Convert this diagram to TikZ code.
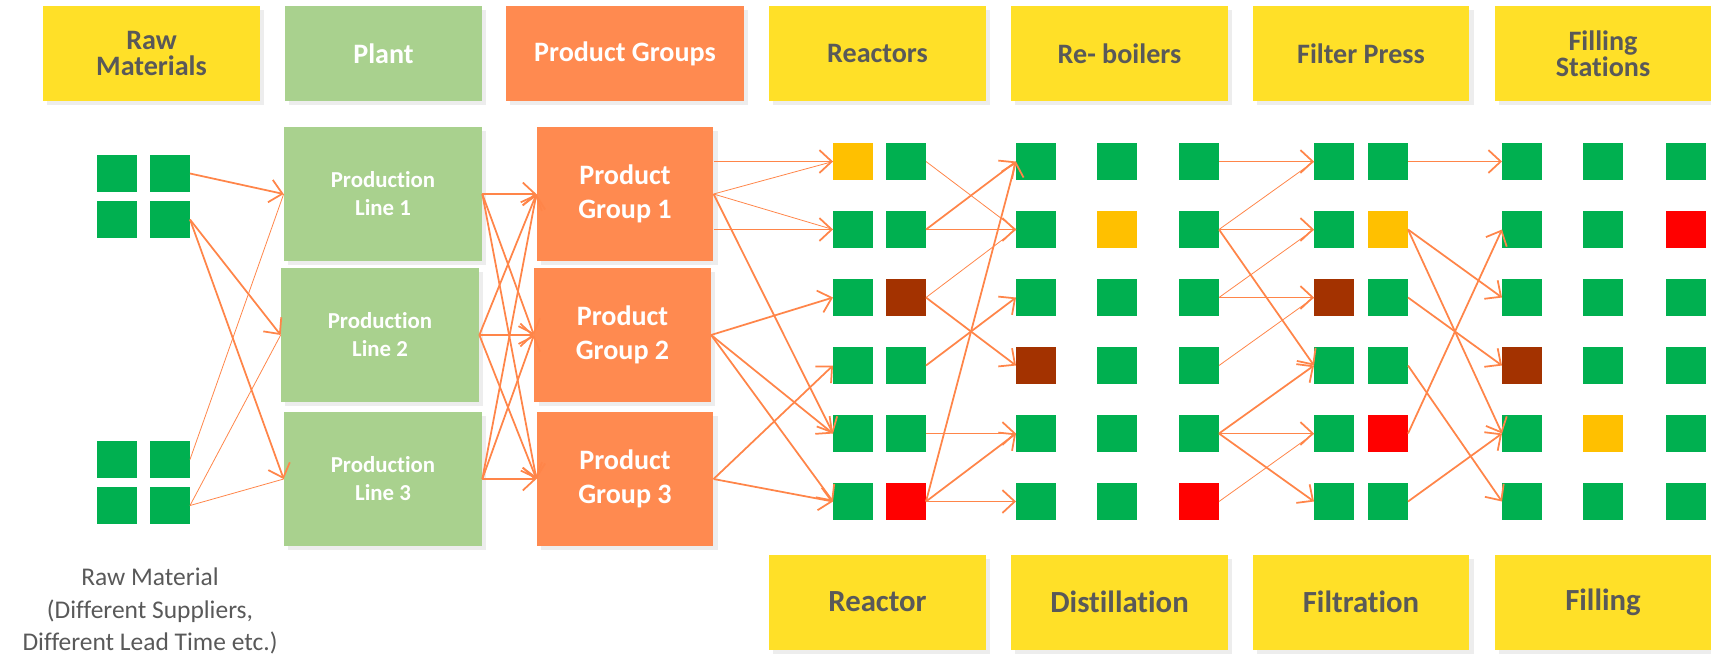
\documentclass[tikz,border=0pt]{standalone}
\usepackage{fontspec}
\setmainfont{Carlito}[Ligatures=NoCommon]
\usepackage{xcolor}
\usetikzlibrary{arrows.meta,positioning,shadows}

\definecolor{hdryellow}{HTML}{FFE028}
\definecolor{plantgreen}{HTML}{A9D18E}
\definecolor{grouporange}{HTML}{FF8A50}
\definecolor{linkorange}{HTML}{FF8549}
\definecolor{okgreen}{HTML}{00B050}
\definecolor{warnamber}{HTML}{FFC000}
\definecolor{stopbrown}{HTML}{A33200}
\definecolor{failred}{HTML}{FF0000}
\definecolor{txtgray}{HTML}{595959}

\tikzset{
  shade/.style={drop shadow={shadow xshift=2.5pt,shadow yshift=-2.5pt,opacity=.07,fill=black}},
  hdr/.style={shade, fill=hdryellow, text=txtgray, font=\fontsize{16}{15}\selectfont\bfseries,
    minimum width=4.34cm, minimum height=1.9cm, align=center, inner sep=0},
  ftr/.style={hdr, font=\fontsize{17.5}{18}\selectfont\bfseries},
  linebox/.style={shade, fill=plantgreen, text=white, font=\fontsize{13}{16}\selectfont\bfseries,
    minimum width=3.96cm, minimum height=2.68cm, align=center, inner sep=0},
  groupbox/.style={shade, fill=grouporange, text=white, font=\fontsize{16}{19.5}\selectfont\bfseries,
    minimum width=3.53cm, minimum height=2.68cm, align=center, inner sep=0},
  sq/.style={minimum width=0.8cm, minimum height=0.74cm, inner sep=0, outer sep=0},
  flow/.style={draw=linkorange, line width=1pt, -{Straight Barb[length=7pt,width=13pt]}},
  feed/.style={draw=linkorange, line width=0.45pt},
}

\begin{document}
\begin{tikzpicture}[x=0.02cm, y=-0.02cm]
    \useasboundingbox (0,0) rectangle (1711,654);

    % Top headers
    \node[hdr] (hraw) at (151.5,53.5) {Raw\\Materials};
    \node[hdr, fill=plantgreen, text=white, minimum width=3.94cm] (hplant) at (383.5,53.5) {Plant};
    \node[hdr, fill=grouporange, text=white, minimum width=4.76cm] (hgroups) at (625,53.5) {Product Groups};
    \node[hdr] (hreact) at (877.5,53.5) {Reactors};
    \node[hdr] (hboil) at (1119.5,53.5) {Re- boilers};
    \node[hdr] (hfilter) at (1361,53.5) {Filter Press};
    \node[hdr] (hfill) at (1603,53.5) {Filling\\Stations};

    % Bottom process steps
    \node[ftr] (freact) at (877.5,602) {Reactor};
    \node[ftr] (fdist) at (1119.5,602) {Distillation};
    \node[ftr] (ffilt) at (1361,602) {Filtration};
    \node[ftr] (ffill) at (1603,602) {Filling};

    % Raw materials
    \foreach \n/\x/\y in {raw1a/117/173.5, raw1b/170/173.5, raw2a/117/219.5, raw2b/170/219.5,
                          raw3a/117/459.5, raw3b/170/459.5, raw4a/117/505.5, raw4b/170/505.5}
      \node[sq, fill=okgreen] (\n) at (\x,\y) {};
    \node[text=txtgray, font=\fontsize{14.5}{18.4}\selectfont, align=center] (rawnote) at (150,611)
      {Raw Material\\(Different Suppliers,\\Different Lead Time etc.)};

    % Plant and product groups
    \node[linebox] (line1) at (383,194) {Production\\Line 1};
    \node[linebox] (line2) at (380,335) {Production\\Line 2};
    \node[linebox] (line3) at (383,479) {Production\\Line 3};
    \node[groupbox] (group1) at (625,194) {Product\\Group 1};
    \node[groupbox] (group2) at (622.5,335) {Product\\Group 2};
    \node[groupbox] (group3) at (625,479) {Product\\Group 3};

    % Equipment status grid
    \foreach \col/\x/\fills in {
        rA/853/{warnamber,okgreen,okgreen,okgreen,okgreen,okgreen},
        rB/906/{okgreen,okgreen,stopbrown,okgreen,okgreen,failred},
        bA/1036/{okgreen,okgreen,okgreen,stopbrown,okgreen,okgreen},
        bB/1117/{okgreen,warnamber,okgreen,okgreen,okgreen,okgreen},
        bC/1199/{okgreen,okgreen,okgreen,okgreen,okgreen,failred},
        fA/1334/{okgreen,okgreen,stopbrown,okgreen,okgreen,okgreen},
        fB/1388/{okgreen,warnamber,okgreen,okgreen,failred,okgreen},
        sA/1522/{okgreen,okgreen,okgreen,stopbrown,okgreen,okgreen},
        sB/1603/{okgreen,okgreen,okgreen,okgreen,warnamber,okgreen},
        sC/1686/{okgreen,failred,okgreen,okgreen,okgreen,okgreen}}
      \foreach \f [count=\row] in \fills
        \node[sq, fill=\f] (\col\row) at (\x,{93.5+68*\row}) {};

    % Raw materials -> production lines
    \draw[flow] (raw1b.east) -- (line1.west);
    \draw[flow] (raw2b.east) -- (line2.west);
    \draw[flow] (raw2b.east) -- (line3.west);
    \draw[feed] (raw3b.east) -- (line1.west);
    \draw[feed] (raw4b.east) -- (line2.west);
    \draw[feed] (raw4b.east) -- (line3.west);

    % Production lines -> product groups
    \foreach \a in {1,2,3}
      \foreach \b in {1,2,3}
        \draw[flow] (line\a.east) -- (group\b.west);

    % Product groups -> reactors
    \draw[flow] (group1.east |- rA1) -- (rA1.west);
    \draw[flow] (group1.east |- rA2) -- (rA2.west);
    \draw[feed] (group1.east) -- (rA1.west);
    \draw[feed] (group1.east) -- (rA2.west);
    \foreach \a/\b in {group1/rA5, group2/rA3, group2/rA5, group2/rA6, group3/rA4, group3/rA6}
      \draw[flow] (\a.east) -- (\b.west);

    % Reactors -> re-boilers -> filter press -> filling
    \foreach \a/\b in {rB2/bA1, rB2/bA2, rB3/bA4, rB4/bA3, rB5/bA5, rB6/bA1, rB6/bA5, rB6/bA6,
                       bC1/fA1, bC2/fA2, bC2/fA4, bC3/fA3, bC5/fA4, bC5/fA5, bC5/fA6,
                       fB1/sA1, fB2/sA3, fB2/sA5, fB3/sA4, fB4/sA6, fB5/sA2, fB6/sA5}
      \draw[flow] (\a.east) -- (\b.west);
    \foreach \a/\b in {rB1/bA2, rB3/bA2, bC2/fA1, bC3/fA2, bC4/fA3, bC6/fA5}
      \draw[feed] (\a.east) -- (\b.west);
\end{tikzpicture}
\end{document}
